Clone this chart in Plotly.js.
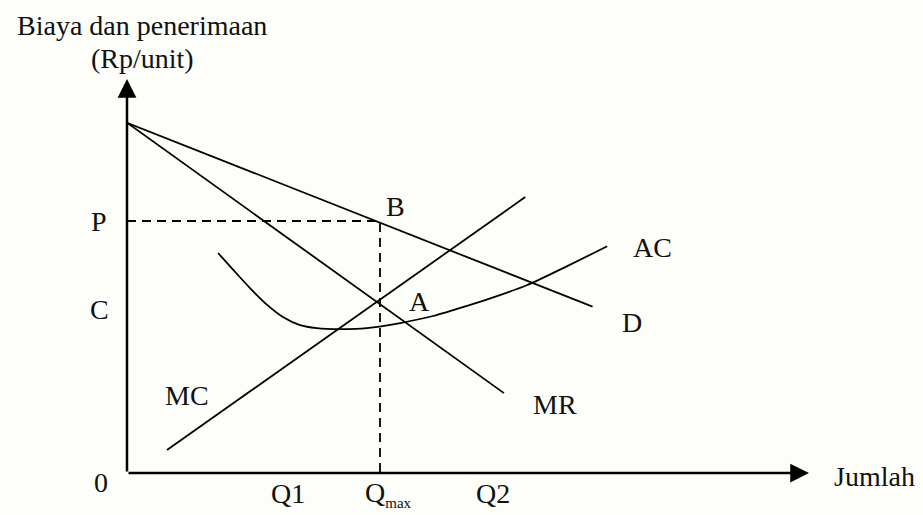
<!DOCTYPE html>
<html>
<head>
<meta charset="utf-8">
<script src="https://cdn.plot.ly/plotly-3.0.1.min.js"></script>
<style>
  html, body { margin: 0; padding: 0; background: #fdfdf9; }
  #chart { width: 923px; height: 515px; }
</style>
</head>
<body>
<div id="chart"></div>
<script>
// Demand curve (D = average revenue)
const dQ = [0, 9.2];
const dP = [13.9, 6.6];

// Marginal revenue
const mrQ = [0, 7.45];
const mrP = [13.9, 3.17];

// Marginal cost
const mcQ = [0.79, 7.87];
const mcP = [0.91, 10.95];

// Average cost (U-shaped)
const acQ = [1.80, 2.10, 2.43, 2.77, 3.08, 3.42, 3.75, 4.21, 4.74, 5.40, 6.05, 6.72, 7.37, 7.91, 8.70, 9.49];
const acP = [8.73, 8.06, 7.34, 6.67, 6.19, 5.87, 5.75, 5.71, 5.75, 5.95, 6.23, 6.63, 7.06, 7.46, 8.21, 9.00];

// Profit-maximising output and price
const qMax = 5;
const priceP = 10;
const qAxisEnd = 13.478;
const pAxisEnd = 15.635;

// Text labels
const qLabels = ['Q1', 'Q<sub><span style="font-size:15px">max</span></sub>', 'Q2'];
const qLabelAt = [3.18, 5.17, 7.23];
const curveNames = ['D', 'MR', 'MC', 'AC'];

const font = { family: 'Liberation Serif, Times New Roman, serif', size: 28, color: '#111' };
const lineStyle = { color: '#000', width: 1.8 };

const traces = [
  { x: dQ, y: dP, mode: 'lines', line: lineStyle },
  { x: mrQ, y: mrP, mode: 'lines', line: lineStyle },
  { x: mcQ, y: mcP, mode: 'lines', line: lineStyle },
  { x: acQ, y: acP, mode: 'lines', line: Object.assign({ shape: 'spline', smoothing: 0.8 }, lineStyle) },
  // guides from B to both axes
  { x: [0, qMax, qMax], y: [priceP, priceP, 0], mode: 'lines',
    line: { color: '#000', width: 1.8, dash: '9px,6px' } }
];

// Axis line drawn as an annotation arrow from the origin to its tip
function axisArrow(x, y) {
  return { x: x, y: y, ax: 0, ay: 0, xref: 'x', yref: 'y', axref: 'x', ayref: 'y',
    showarrow: true, arrowhead: 2, arrowsize: 1.5, arrowwidth: 2.5, arrowcolor: '#000', text: '' };
}

// Labels are placed in axis units but referenced to the paper so that
// those lying outside the plotting area are still drawn.
function label(text, x, y, extra) {
  return Object.assign({ text: text, x: x / qAxisEnd, y: y / pAxisEnd, xref: 'paper', yref: 'paper',
    showarrow: false, font: font, xanchor: 'center', yanchor: 'middle' }, extra || {});
}

const annotations = [
  axisArrow(qAxisEnd, 0),
  axisArrow(0, pAxisEnd),

  // axis texts
  label('Biaya dan penerimaan', 0.30, 17.75),
  label('(Rp/unit)', 0.30, 16.45),
  label('Jumlah', 13.93, -0.12, { xanchor: 'left' }),
  label('0', -0.51, -0.36),
  label('P', -0.55, priceP),
  label('C', -0.55, 6.47),
  label(qLabels[0], qLabelAt[0], -0.82),
  label(qLabels[1], qLabelAt[1], -0.82),
  label(qLabels[2], qLabelAt[2], -0.82),

  // points
  label('B', 5.30, 10.56),
  label('A', 5.79, 6.8),

  // curve names
  label(curveNames[0], 9.98, 5.99),
  label(curveNames[1], 8.46, 2.70),
  label(curveNames[2], 1.19, 3.08),
  label(curveNames[3], 10.38, 8.93)
];

const layout = {
  width: 923,
  height: 515,
  margin: { l: 127, r: 114, t: 79, b: 42, pad: 0 },
  paper_bgcolor: '#fdfdf9',
  plot_bgcolor: 'rgba(0,0,0,0)',
  showlegend: false,
  font: font,
  xaxis: { range: [0, qAxisEnd], visible: false, fixedrange: true },
  yaxis: { range: [0, pAxisEnd], visible: false, fixedrange: true },
  annotations: annotations
};

Plotly.newPlot('chart', traces, layout, { displayModeBar: false, staticPlot: true });
</script>
</body>
</html>
